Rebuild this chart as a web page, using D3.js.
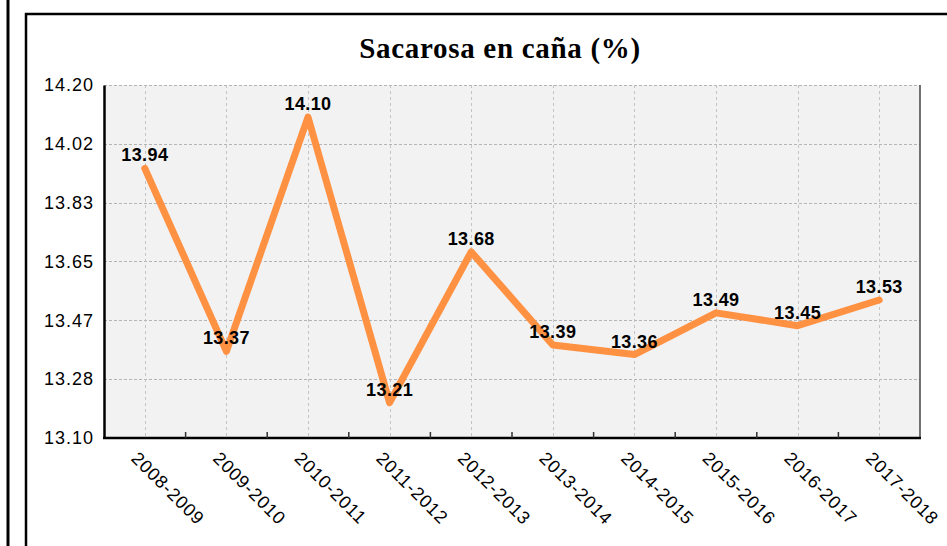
<!DOCTYPE html>
<meta charset="utf-8">
<script src="https://d3js.org/d3.v7.min.js"></script>
<style>
    body { margin: 0; background: white; }
    svg { display: block; }
</style>
<body>
<div id="chart"></div>
</body>
<script>
    // data
    const seasons = ["2008-2009", "2009-2010", "2010-2011", "2011-2012", "2012-2013",
        "2013-2014", "2014-2015", "2015-2016", "2016-2017", "2017-2018"];
    const sucrose = [13.94, 13.37, 14.10, 13.21, 13.68, 13.39, 13.36, 13.49, 13.45, 13.53];
    const yTicks = [13.10, 13.2833, 13.4667, 13.65, 13.8333, 14.0167, 14.20];
    const title = "Sacarosa en caña (%)";

    const W = 947, H = 546;
    const plot = {left: 104, right: 920, top: 85, bottom: 438};
    const sans = "'Liberation Sans', Arial, sans-serif";

    const svg = d3.select("#chart").append("svg")
        .attr("width", W)
        .attr("height", H);

    // frames
    svg.append("line")
        .attr("x1", 8).attr("x2", 8).attr("y1", 0).attr("y2", H)
        .attr("stroke", "black").attr("stroke-width", 3);
    svg.append("rect")
        .attr("x", 26).attr("y", 14)
        .attr("width", 960).attr("height", 600)
        .attr("fill", "none").attr("stroke", "black").attr("stroke-width", 2.5);

    svg.append("text")
        .attr("x", 500)
        .attr("y", 58)
        .attr("text-anchor", "middle")
        .style("font-family", "'Liberation Serif', 'Times New Roman', serif")
        .style("font-weight", "bold")
        .style("font-size", "29px")
        .style("letter-spacing", "0.7px")
        .text(title);

    const x = d3.scaleBand()
        .domain(seasons)
        .range([plot.left, plot.right]);
    const y = d3.scaleLinear()
        .domain([13.10, 14.20])
        .range([plot.bottom, plot.top]);

    const cx = d => x(d) + x.bandwidth() / 2;

    svg.append("rect")
        .attr("x", plot.left).attr("y", plot.top)
        .attr("width", plot.right - plot.left)
        .attr("height", plot.bottom - plot.top)
        .attr("fill", "#f2f2f2");

    // grid
    svg.append("g")
        .selectAll("line")
        .data(yTicks)
        .join("line")
        .attr("x1", plot.left).attr("x2", plot.right)
        .attr("y1", d => Math.round(y(d)) + 0.5).attr("y2", d => Math.round(y(d)) + 0.5)
        .attr("stroke", "#b4b4b4").attr("stroke-dasharray", "3,2");
    svg.append("g")
        .selectAll("line")
        .data(seasons)
        .join("line")
        .attr("x1", d => Math.round(cx(d)) + 0.5).attr("x2", d => Math.round(cx(d)) + 0.5)
        .attr("y1", plot.top).attr("y2", plot.bottom)
        .attr("stroke", "#c4c4c4").attr("stroke-dasharray", "3,3");

    // right border
    svg.append("line")
        .attr("x1", plot.right).attr("x2", plot.right)
        .attr("y1", plot.top).attr("y2", plot.bottom)
        .attr("stroke", "#444").attr("stroke-width", 1.5);

    // y axis
    const yAxis = svg.append("g")
        .attr("transform", "translate(" + plot.left + ",0)")
        .call(d3.axisLeft(y).tickValues(yTicks).tickSize(0).tickPadding(10)
            .tickFormat(d3.format(".2f")));
    yAxis.select(".domain").attr("stroke", "black").attr("stroke-width", 2.5);
    yAxis.selectAll("text")
        .style("font-family", sans)
        .style("font-size", "18px")
        .style("letter-spacing", "1px")
        .attr("fill", "black");

    // x axis, ticks between categories pointing inward
    const xAxis = svg.append("g")
        .attr("transform", "translate(0," + plot.bottom + ")");
    xAxis.append("line")
        .attr("x1", plot.left - 1).attr("x2", plot.right + 1)
        .attr("stroke", "black").attr("stroke-width", 2.5);
    xAxis.selectAll(".tk")
        .data(seasons.slice(1))
        .join("line")
        .attr("class", "tk")
        .attr("x1", d => x(d)).attr("x2", d => x(d))
        .attr("y1", 0).attr("y2", -6)
        .attr("stroke", "#333").attr("stroke-width", 1.5);
    xAxis.selectAll("text")
        .data(seasons)
        .join("text")
        .attr("transform", d => "translate(" + (cx(d) - 10) + ",17) rotate(45)")
        .attr("dy", "0.35em")
        .style("font-family", sans)
        .style("font-size", "18px")
        .style("letter-spacing", "0.9px")
        .attr("fill", "black")
        .text(d => d);

    // line
    const line = d3.line()
        .x((d, i) => cx(seasons[i]))
        .y(d => y(d));
    svg.append("path")
        .datum(sucrose)
        .attr("d", line)
        .attr("fill", "none")
        .attr("stroke", "#ff9142")
        .attr("stroke-width", 7)
        .attr("stroke-linecap", "round")
        .attr("stroke-linejoin", "round");

    // value labels
    svg.append("g")
        .selectAll("text")
        .data(sucrose)
        .join("text")
        .attr("x", (d, i) => cx(seasons[i]))
        .attr("y", d => y(d) - 7)
        .attr("text-anchor", "middle")
        .style("font-family", sans)
        .style("font-weight", "bold")
        .style("font-size", "18px")
        .style("letter-spacing", "0.4px")
        .attr("fill", "black")
        .text(d => d.toFixed(2));
</script>
</html>
